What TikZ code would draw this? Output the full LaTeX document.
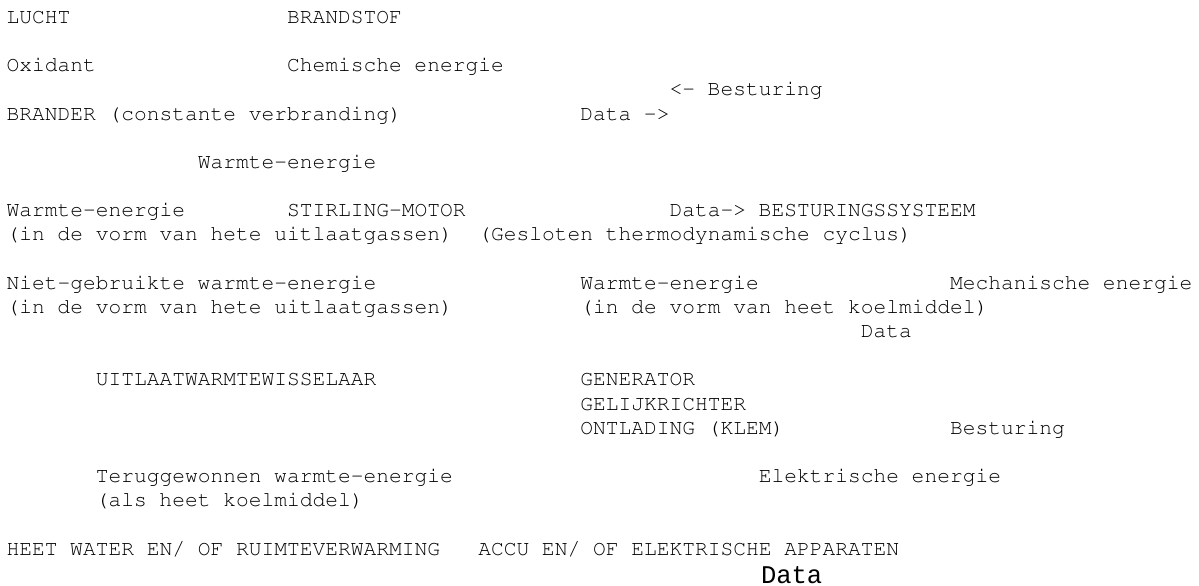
\documentclass[tikz,border=0pt]{standalone}
\usepackage[T1]{fontenc}
\usepackage{fontspec}
\newfontfamily\bigmono{Liberation Mono}
\newcommand\courfont{\fontencoding{T1}\fontfamily{pcr}\fontseries{m}\fontshape{n}\fontsize{21.25bp}{25bp}\selectfont}
\begin{document}
\begin{tikzpicture}[x=1bp,y=-1bp,
  txt/.style={anchor=base west,inner sep=0pt,outer sep=0pt,font=\courfont},
  bigtxt/.style={anchor=base west,inner sep=0pt,outer sep=0pt,font=\bigmono\fontsize{25.5bp}{30bp}\selectfont}]
\fill[white] (0,0) rectangle (1199,586);
\useasboundingbox (0,0) rectangle (1199,586);
\def\cw{12.75}
\def\cx{6.5}
\def\ly{24.17}
\def\ty{23.4}
\node[txt] (lucht) at ({\cx+0*\cw},{\ty+0*\ly}) {LUCHT};
\node[txt] (brandstof) at ({\cx+22*\cw},{\ty+0*\ly}) {BRANDSTOF};
\node[txt] (oxidant) at ({\cx+0*\cw},{\ty+2*\ly}) {Oxidant};
\node[txt] (chem) at ({\cx+22*\cw},{\ty+2*\ly}) {Chemische energie};
\node[txt] (best1) at ({\cx+52*\cw},{\ty+3*\ly}) {<- Besturing};
\node[txt] (brander) at ({\cx+0*\cw},{\ty+4*\ly}) {BRANDER (constante verbranding)};
\node[txt] (data1) at ({\cx+45*\cw},{\ty+4*\ly}) {Data ->};
\node[txt] (warmte1) at ({\cx+15*\cw},{\ty+6*\ly}) {Warmte-energie};
\node[txt] (warmte2) at ({\cx+0*\cw},{\ty+8*\ly}) {Warmte-energie};
\node[txt] (stirling) at ({\cx+22*\cw},{\ty+8*\ly}) {STIRLING-MOTOR};
\node[txt] (data2) at ({\cx+52*\cw},{\ty+8*\ly}) {Data-> BESTURINGSSYSTEEM};
\node[txt] (vorm1) at ({\cx+0*\cw},{\ty+9*\ly}) {(in de vorm van hete uitlaatgassen)};
\node[txt] (gesloten) at ({\cx+37*\cw},{\ty+9*\ly}) {(Gesloten thermodynamische cyclus)};
\node[txt] (niet) at ({\cx+0*\cw},{\ty+11*\ly}) {Niet-gebruikte warmte-energie};
\node[txt] (warmte3) at ({\cx+45*\cw},{\ty+11*\ly}) {Warmte-energie};
\node[txt] (mech) at ({\cx+74*\cw},{\ty+11*\ly}) {Mechanische energie};
\node[txt] (vorm2) at ({\cx+0*\cw},{\ty+12*\ly}) {(in de vorm van hete uitlaatgassen)};
\node[txt] (vorm3) at ({\cx+45*\cw},{\ty+12*\ly}) {(in de vorm van heet koelmiddel)};
\node[txt] (data3) at ({\cx+67*\cw},{\ty+13*\ly}) {Data};
\node[txt] (uitlaat) at ({\cx+7*\cw},{\ty+15*\ly}) {UITLAATWARMTEWISSELAAR};
\node[txt] (gen) at ({\cx+45*\cw},{\ty+15*\ly}) {GENERATOR};
\node[txt] (gelijk) at ({\cx+45*\cw},{\ty+16*\ly}) {GELIJKRICHTER};
\node[txt] (ontlading) at ({\cx+45*\cw},{\ty+17*\ly}) {ONTLADING (KLEM)};
\node[txt] (best2) at ({\cx+74*\cw},{\ty+17*\ly}) {Besturing};
\node[txt] (terug) at ({\cx+7*\cw},{\ty+19*\ly}) {Teruggewonnen warmte-energie};
\node[txt] (elek) at ({\cx+59*\cw},{\ty+19*\ly}) {Elektrische energie};
\node[txt] (als) at ({\cx+7*\cw},{\ty+20*\ly}) {(als heet koelmiddel)};
\node[txt] (heet) at ({\cx+0*\cw},{\ty+22*\ly}) {HEET WATER EN/ OF RUIMTEVERWARMING};
\node[txt] (accu) at ({\cx+37*\cw},{\ty+22*\ly}) {ACCU EN/ OF ELEKTRISCHE APPARATEN};
\node[bigtxt] (data4) at (761,583) {Data};
\end{tikzpicture}
\end{document}
